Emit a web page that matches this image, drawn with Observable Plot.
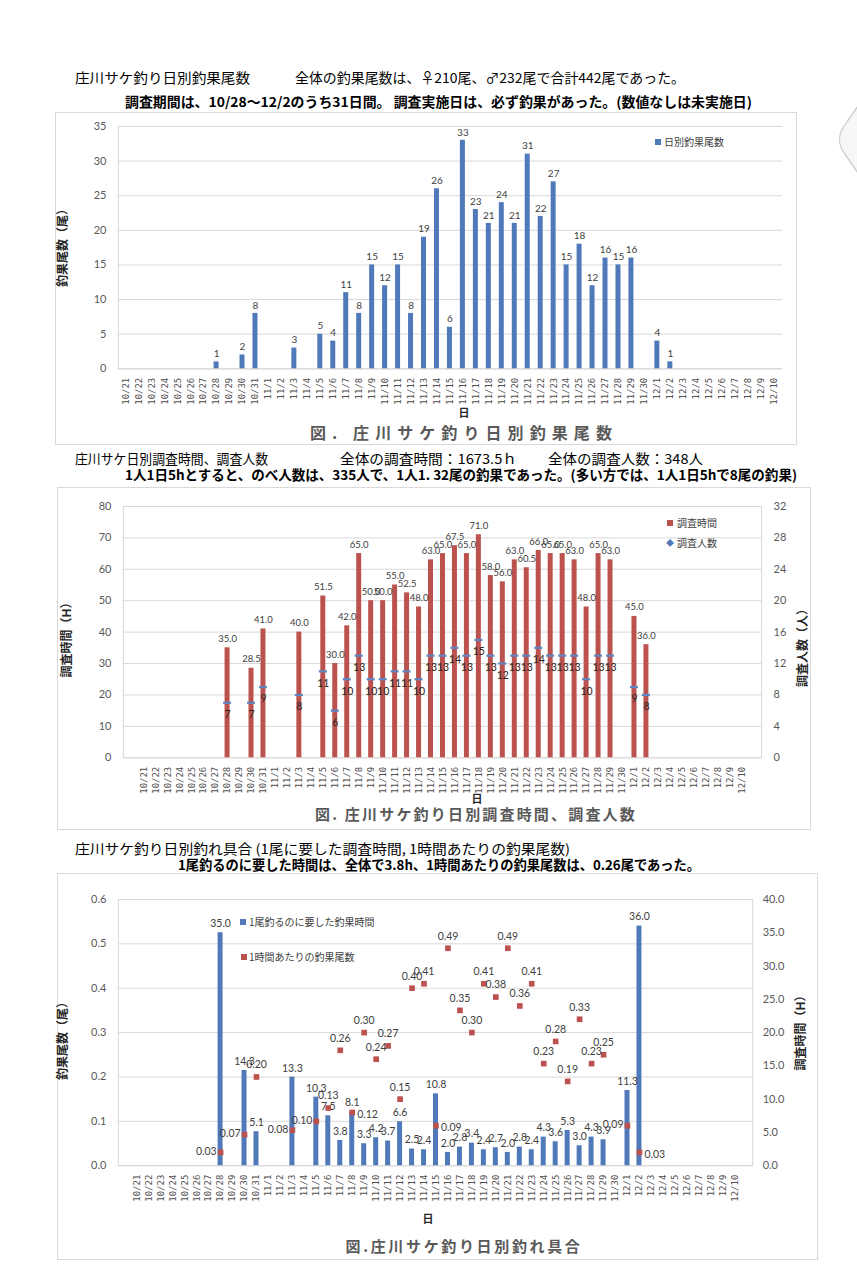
<!DOCTYPE html>
<html><head><meta charset="utf-8">
<script src="https://cdn.jsdelivr.net/npm/d3@7"></script>
<script src="https://cdn.jsdelivr.net/npm/@observablehq/plot@0.6"></script>
<style>
body{margin:0;background:#fff;}
#page{position:relative;width:857px;height:1280px;overflow:hidden;background:#fff;font-family:"Noto Sans CJK JP",sans-serif;}
.box{position:absolute;border:1px solid #d9d9d9;background:#fff;box-sizing:border-box;}
.box svg{position:absolute;left:0;top:0;}
.hd{position:absolute;white-space:nowrap;font-size:13.5px;line-height:16px;color:#000;transform-origin:left center;}
.b{font-weight:bold;}
.t{position:absolute;white-space:nowrap;line-height:1;}
.ctr{transform:translate(-50%,-50%);}
.rot{transform:translate(-50%,-50%) rotate(-90deg);font-size:12px;font-weight:bold;color:#262626;}
.ftitle{font-weight:bold;color:#595959;}
.lg{font-size:10px;color:#404040;transform:translateY(-50%);}
.sq{position:absolute;width:6px;height:6px;}
</style></head>
<body><div id="page"></div>
<script>
// ---- data ----
const days = ["10/21","10/22","10/23","10/24","10/25","10/26","10/27","10/28","10/29","10/30","10/31",
"11/1","11/2","11/3","11/4","11/5","11/6","11/7","11/8","11/9","11/10","11/11","11/12","11/13","11/14","11/15",
"11/16","11/17","11/18","11/19","11/20","11/21","11/22","11/23","11/24","11/25","11/26","11/27","11/28","11/29","11/30",
"12/1","12/2","12/3","12/4","12/5","12/6","12/7","12/8","12/9","12/10"];
const surveyDays = ["10/28","10/30","10/31","11/3","11/5","11/6","11/7","11/8","11/9","11/10","11/11","11/12","11/13","11/14","11/15",
"11/16","11/17","11/18","11/19","11/20","11/21","11/22","11/23","11/24","11/25","11/26","11/27","11/28","11/29","12/1","12/2"];
const catchCounts = [1,2,8,3,5,4,11,8,15,12,15,8,19,26,6,33,23,21,24,21,31,22,27,15,18,12,16,15,16,4,1];
const surveyHours = [35.0,28.5,41.0,40.0,51.5,30.0,42.0,65.0,50.0,50.0,55.0,52.5,48.0,63.0,65.0,67.5,65.0,71.0,58.0,56.0,63.0,60.5,66.0,65.0,65.0,63.0,48.0,65.0,63.0,45.0,36.0];
const surveyPeople = [7,7,9,8,11,6,10,13,10,10,11,11,10,13,13,14,13,15,13,12,13,13,14,13,13,13,10,13,13,9,8];
const hoursPerFish = [35.0,14.3,5.1,13.3,10.3,7.5,3.8,8.1,3.3,4.2,3.7,6.6,2.5,2.4,10.8,2.0,2.8,3.4,2.4,2.7,2.0,2.8,2.4,4.3,3.6,5.3,3.0,4.3,3.9,11.3,36.0];
const fishPerHour = [0.03,0.07,0.20,0.08,0.10,0.13,0.26,0.12,0.30,0.24,0.27,0.15,0.40,0.41,0.09,0.49,0.35,0.30,0.41,0.38,0.49,0.36,0.41,0.23,0.28,0.19,0.33,0.23,0.25,0.09,0.03];
const ticks1 = [0,5,10,15,20,25,30,35];
const ticks2L = [0,10,20,30,40,50,60,70,80];
const ticks2R = [0,4,8,12,16,20,24,28,32];
const ticks3L = [0,0.1,0.2,0.3,0.4,0.5,0.6];
const ticks3R = [0,5,10,15,20,25,30,35,40];
// label placement for chart 3 point labels (presentation only)
const leftLabelDays = ["10/28","10/30","11/3","11/5","12/1"];
const rightLabelDays = ["11/8","11/15","12/2"];

const rows = surveyDays.map((d,i)=>({day:d, n:catchCounts[i], h:surveyHours[i], p:surveyPeople[i], hpf:hoursPerFish[i], fph:fishPerHour[i]}));

const BLUE="#4f79b9", RED="#bc524e", GRID="#d9d9d9";
const page = document.getElementById("page");
function add(html){ page.insertAdjacentHTML("beforeend", html); return page.lastElementChild; }

// decorative shape at right edge
add(`<div style="position:absolute;left:848px;top:106px;width:67px;height:67px;background:#f7f7f7;border:1px solid #c8c8c8;border-radius:12px;box-sizing:border-box;transform:scaleY(1.45) rotate(45deg);transform-origin:center;"></div>`);

// ---- headers ----
add(`<div class="hd" data-w="175" style="left:75px;top:69px">庄川サケ釣り日別釣果尾数</div>`);
add(`<div class="hd" data-w="390" style="left:295px;top:69px">全体の釣果尾数は、♀210尾、♂232尾で合計442尾であった。</div>`);
add(`<div class="hd b" data-w="627" style="left:125px;top:93px">調査期間は、10/28～12/2のうち31日間。 調査実施日は、必ず釣果があった。(数値なしは未実施日)</div>`);
add(`<div class="hd" data-w="193" style="left:75px;top:450px">庄川サケ日別調査時間、調査人数</div>`);
add(`<div class="hd" data-w="177" style="left:340px;top:450px">全体の調査時間：1673.5ｈ</div>`);
add(`<div class="hd" data-w="155" style="left:548px;top:450px">全体の調査人数：348人</div>`);
add(`<div class="hd b" data-w="672" style="left:125px;top:466px">1人1日5hとすると、のべ人数は、335人で、1人1. 32尾の釣果であった。(多い方では、1人1日5hで8尾の釣果)</div>`);
add(`<div class="hd" data-w="495" style="left:75px;top:840px">庄川サケ釣り日別釣れ具合 (1尾に要した調査時間, 1時間あたりの釣果尾数)</div>`);
add(`<div class="hd b" data-w="522" style="left:178px;top:856px">1尾釣るのに要した時間は、全体で3.8h、1時間あたりの釣果尾数は、0.26尾であった。</div>`);

// ---- boxes ----
const box1 = add(`<div class="box" style="left:55px;top:112px;width:742px;height:333px"></div>`);
const box2 = add(`<div class="box" style="left:57px;top:487px;width:754px;height:343px"></div>`);
const box3 = add(`<div class="box" style="left:57px;top:873px;width:761px;height:387px"></div>`);

const baseStyle = {fontFamily:"Lato, sans-serif", fontSize:"11px", color:"#595959", background:"transparent", overflow:"visible"};
const xAxis = () => Plot.axisX(days, {tickSize:0, tickRotate:-90, tickPadding:9, fill:"#505050", label:null});
const xScale = {type:"band", domain:days, paddingInner:0.6, paddingOuter:0.3};

// ---- chart 1 ----
const c1 = Plot.plot({
  width:742, height:320, marginLeft:62, marginRight:14, marginTop:13, marginBottom:64,
  style:baseStyle,
  x:xScale,
  y:{domain:[0,35]},
  marks:[
    Plot.gridY(ticks1, {stroke:GRID, strokeOpacity:1}),
    Plot.frame({anchor:"left", stroke:GRID}),
    Plot.axisY(ticks1, {tickSize:0, tickPadding:12, fontSize:11, fill:"#595959", label:null}),
    xAxis(),
    Plot.ruleY([0], {stroke:GRID}),
    Plot.barY(rows, {x:"day", y:"n", fill:BLUE}),
    Plot.text(rows, {x:"day", y:"n", text:d=>String(d.n), dy:-8, fontSize:10, fill:"#404040"})
  ]
});
box1.appendChild(c1);

// ---- chart 2 ----
const k2 = 80/32;
const c2 = Plot.plot({
  width:754, height:330, marginLeft:65, marginRight:49, marginTop:18, marginBottom:60,
  style:baseStyle,
  x:xScale,
  y:{domain:[0,80]},
  marks:[
    Plot.gridY(ticks2L, {stroke:GRID, strokeOpacity:1}),
    Plot.frame({stroke:GRID}),
    Plot.axisY(ticks2L, {anchor:"left", tickSize:0, tickPadding:12, fontSize:11, fill:"#595959", label:null}),
    Plot.axisY(ticks2R.map(v=>v*k2), {anchor:"right", tickSize:0, tickPadding:12, fontSize:11, fill:"#595959", label:null, tickFormat:d=>String(Math.round(d/k2))}),
    xAxis(),
    Plot.barY(rows, {x:"day", y:"h", fill:RED}),
    Plot.text(rows, {x:"day", y:"h", text:d=>d.h.toFixed(1), dy:-9, fontSize:9.5, fill:"#404040"}),
    Plot.tickY(rows, {x:"day", y:d=>d.p*k2, stroke:"#5b86c5", strokeWidth:2.2, insetLeft:-1.5, insetRight:-1.5}),
    Plot.text(rows, {x:"day", y:d=>d.p*k2, text:d=>String(d.p), dy:12, fontSize:10.5, fill:"#262626"})
  ]
});
box2.appendChild(c2);

// ---- chart 3 ----
const k3 = 0.6/40;
const mid = rows.filter(d=>!leftLabelDays.includes(d.day) && !rightLabelDays.includes(d.day));
const c3 = Plot.plot({
  width:761, height:345, marginLeft:60, marginRight:65, marginTop:25, marginBottom:53,
  style:baseStyle,
  x:xScale,
  y:{domain:[0,0.6]},
  marks:[
    Plot.gridY(ticks3L, {stroke:GRID, strokeOpacity:1}),
    Plot.frame({stroke:GRID}),
    Plot.axisY(ticks3L, {anchor:"left", tickSize:0, tickPadding:12, fontSize:11, fill:"#595959", label:null, tickFormat:d=>d.toFixed(1)}),
    Plot.axisY(ticks3R.map(v=>v*k3), {anchor:"right", tickSize:0, tickPadding:10, fontSize:11, fill:"#595959", label:null, tickFormat:d=>(d/k3).toFixed(1)}),
    xAxis(),
    Plot.barY(rows, {x:"day", y:d=>d.hpf*k3, fill:BLUE}),
    Plot.text(rows, {x:"day", y:d=>d.hpf*k3, text:d=>d.hpf.toFixed(1), dy:-9, fontSize:10.5, fill:"#404040"}),
    Plot.dot(rows, {x:"day", y:"fph", symbol:"square", r:3.2, fill:RED, stroke:"none"}),
    Plot.text(mid, {x:"day", y:"fph", text:d=>d.fph.toFixed(2), dy:-12, fontSize:10.5, fill:"#404040"}),
    Plot.text(rows.filter(d=>leftLabelDays.includes(d.day)), {x:"day", y:"fph", text:d=>d.fph.toFixed(2), dx:-4, dy:-1, textAnchor:"end", fontSize:10.5, fill:"#404040"}),
    Plot.text(rows.filter(d=>rightLabelDays.includes(d.day)), {x:"day", y:"fph", text:d=>d.fph.toFixed(2), dx:5, dy:2, textAnchor:"start", fontSize:10.5, fill:"#404040"})
  ]
});
box3.appendChild(c3);

// x tick labels: monospaced like the reference
[c1,c2,c3].forEach(svg=>{
  svg.querySelectorAll("text").forEach(t=>{
    if (days.includes(t.textContent)) {
      t.style.fontFamily = '"DejaVu Sans Mono", monospace';
      t.style.fontSize = "9px";
    }
  });
});

// ---- axis titles, x labels, figure titles, legends ----
add(`<div class="t rot" style="left:62px;top:245px">釣果尾数（尾）</div>`);
add(`<div class="t ctr b" style="left:464px;top:412px;font-size:11px;color:#262626">日</div>`);
add(`<div class="t ctr ftitle" data-ls="308" style="left:464px;top:432px;font-size:16px">図. 庄川サケ釣り日別釣果尾数</div>`);
add(`<div class="sq" style="left:655px;top:139px;background:${BLUE}"></div>`);
add(`<div class="t lg" style="left:664px;top:142px">日別釣果尾数</div>`);

add(`<div class="t rot" style="left:66px;top:637px">調査時間（H）</div>`);
add(`<div class="t rot" style="left:802px;top:645px">調査人数（人）</div>`);
add(`<div class="t ctr b" style="left:477px;top:798px;font-size:11px;color:#262626">日</div>`);
add(`<div class="t ctr ftitle" data-ls="322" style="left:476px;top:813px;font-size:15px">図. 庄川サケ釣り日別調査時間、調査人数</div>`);
add(`<div class="sq" style="left:667px;top:520px;background:${RED}"></div>`);
add(`<div class="t lg" style="left:677px;top:523px">調査時間</div>`);
add(`<div class="t lg" style="left:666px;top:543px;color:${BLUE};font-size:8px">◆</div>`);
add(`<div class="t lg" style="left:677px;top:543px">調査人数</div>`);

add(`<div class="t rot" style="left:62px;top:1038px">釣果尾数（尾）</div>`);
add(`<div class="t rot" style="left:800px;top:1030px">調査時間（H）</div>`);
add(`<div class="t ctr b" style="left:428px;top:1218px;font-size:11px;color:#262626">日</div>`);
add(`<div class="t ctr ftitle" data-ls="237" style="left:464px;top:1245px;font-size:15px">図.庄川サケ釣り日別釣れ具合</div>`);
add(`<div class="sq" style="left:240px;top:919px;background:${BLUE}"></div>`);
add(`<div class="t lg" style="left:249px;top:922px">1尾釣るのに要した釣果時間</div>`);
add(`<div class="sq" style="left:241px;top:954px;background:${RED}"></div>`);
add(`<div class="t lg" style="left:249px;top:957px">1時間あたりの釣果尾数</div>`);

// fit header widths (scaleX) and figure titles (letter-spacing)
function fit(){
  document.querySelectorAll("[data-w]").forEach(el=>{
    el.style.transform="none";
    const a = el.getBoundingClientRect().width;
    el.style.transform = `scaleX(${(+el.dataset.w)/a})`;
  });
  document.querySelectorAll("[data-ls]").forEach(el=>{
    el.style.letterSpacing="0px";
    const a = el.getBoundingClientRect().width;
    const n = el.textContent.length;
    el.style.letterSpacing = ((+el.dataset.ls - a)/n) + "px";
  });
}
fit();
</script>
</body></html>
